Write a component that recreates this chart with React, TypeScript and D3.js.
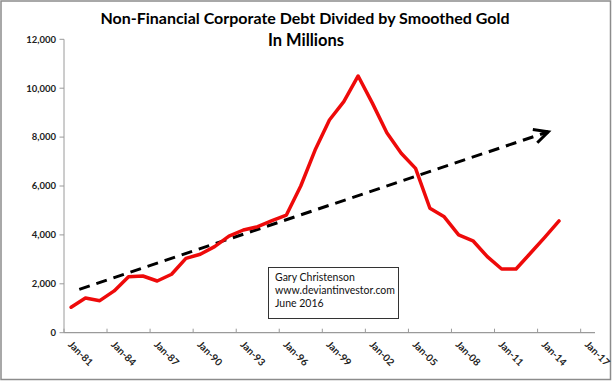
import React from "react";
import * as d3 from "d3";

const pointDates = [
  "1981-07-01","1982-07-01","1983-07-01","1984-07-01","1985-07-01","1986-07-01","1987-07-01",
  "1988-07-01","1989-07-01","1990-07-01","1991-07-01","1992-07-01","1993-07-01","1994-07-01",
  "1995-07-01","1996-07-01","1997-07-01","1998-07-01","1999-07-01","2000-07-01","2001-07-01",
  "2002-07-01","2003-07-01","2004-07-01","2005-07-01","2006-07-01","2007-07-01","2008-07-01",
  "2009-07-01","2010-07-01","2011-07-01","2012-07-01","2013-07-01","2014-07-01","2015-07-01",
];
const debtOverGold = [
  1040, 1420, 1310, 1710, 2290, 2320, 2115, 2390, 3040, 3210, 3520, 3950, 4200, 4335,
  4580, 4810, 6000, 7470, 8700, 9450, 10500, 9380, 8180, 7340, 6720, 5090, 4740, 4000,
  3760, 3110, 2605, 2605, 3250, 3900, 4570,
];
const trendDates = ["1982-01-25", "2014-10-01"];
const trendValues = [1775, 8220];
const yTicks = [0, 2000, 4000, 6000, 8000, 10000, 12000];
const xTickDates = [
  "1981-01-01","1984-01-01","1987-01-01","1990-01-01","1993-01-01","1996-01-01","1999-01-01",
  "2002-01-01","2005-01-01","2008-01-01","2011-01-01","2014-01-01","2017-01-01",
];
const xTickLabels = [
  "Jan-81","Jan-84","Jan-87","Jan-90","Jan-93","Jan-96","Jan-99",
  "Jan-02","Jan-05","Jan-08","Jan-11","Jan-14","Jan-17",
];
const titleLines = ["Non-Financial Corporate Debt Divided by Smoothed Gold", "In Millions"];
const noteLines = ["Gary Christenson", "www.deviantinvestor.com", "June 2016"];

const W = 612;
const H = 381;
const FONT = "Lato, 'Open Sans', sans-serif";

export default function App() {
  const parse = d3.timeParse("%Y-%m-%d");
  const x = d3
    .scaleTime()
    .domain([parse("1981-01-01")!, parse("2018-01-01")!])
    .range([64, 595]);
  const y = d3.scaleLinear().domain([0, 12000]).range([332.7, 39.3]);
  const fmt = d3.format(",");

  const series = pointDates.map((d, i) => ({ date: parse(d)!, value: debtOverGold[i] }));
  const trend = trendDates.map((d, i) => ({ date: parse(d)!, value: trendValues[i] }));

  const line = d3
    .line<{ date: Date; value: number }>()
    .x((d) => x(d.date))
    .y((d) => y(d.value));

  const axisColor = "#9a9a9a";
  const y0 = y(0);

  return (
    <svg
      width={W}
      height={H}
      style={{ position: "absolute", left: 0, top: 0, background: "#fff" }}
    >
      <defs>
        <marker
          id="arrow"
          markerUnits="userSpaceOnUse"
          viewBox="-16 -10 20 20"
          refX={0}
          refY={0}
          markerWidth={20}
          markerHeight={20}
          orient="auto"
        >
          <path
            d="M-14,-7 L0,0 L-14,7"
            fill="none"
            stroke="#000"
            strokeWidth={3}
            strokeDasharray="none"
            strokeLinejoin="miter"
          />
        </marker>
      </defs>
      <rect x={0} y={0} width={W} height={H} fill="#fff" />
      <rect x={1} y={1} width={609.5} height={378.5} fill="none" stroke="#8c8c8c" strokeWidth={1.5} />

      {/* Title */}
      <text
        x={305}
        y={24}
        textAnchor="middle"
        fontFamily={FONT}
        fontWeight="bold"
        fontSize={16}
        fill="#000"
      >
        {titleLines[0]}
      </text>
      <text
        x={306}
        y={45.5}
        textAnchor="middle"
        fontFamily={FONT}
        fontWeight="bold"
        fontSize={16.5}
        fill="#000"
      >
        {titleLines[1]}
      </text>

      {/* Y axis */}
      <line x1={x.range()[0]} x2={x.range()[0]} y1={y(12000)} y2={y0} stroke={axisColor} strokeWidth={1} />
      {yTicks.map((t) => (
        <g key={t}>
          <line x1={59.5} x2={64} y1={y(t)} y2={y(t)} stroke={axisColor} strokeWidth={1} />
          <text
            x={56}
            y={y(t)}
            dy="0.35em"
            textAnchor="end"
            fontFamily={FONT}
            fontWeight="bold"
            fontSize={9.5}
            fill="#222"
          >
            {fmt(t)}
          </text>
        </g>
      ))}

      {/* X axis */}
      <line x1={x.range()[0]} x2={x.range()[1]} y1={y0} y2={y0} stroke={axisColor} strokeWidth={1.2} />
      {xTickDates.map((d, i) => {
        const px = x(parse(d)!);
        return (
          <g key={d}>
            <line x1={px} x2={px} y1={y0 - 4} y2={y0} stroke={axisColor} strokeWidth={1} />
            <text
              transform={`translate(${px + 6},${y0 + 10}) rotate(45)`}
              fontFamily={FONT}
              fontWeight="bold"
              fontSize={10}
              fill="#222"
              dy="0.35em"
            >
              {xTickLabels[i]}
            </text>
          </g>
        );
      })}

      {/* Trend arrow */}
      <path
        d={line(trend) || ""}
        fill="none"
        stroke="#000"
        strokeWidth={3}
        strokeDasharray="11,7"
        markerEnd="url(#arrow)"
      />

      {/* Series */}
      <path
        d={line(series) || ""}
        fill="none"
        stroke="#ee0a0a"
        strokeWidth={3.5}
        strokeLinejoin="round"
        strokeLinecap="round"
      />

      {/* Note box */}
      <rect x={268.5} y={267.5} width={130} height={51} fill="#fff" stroke="#333" strokeWidth={1} />
      {noteLines.map((t, i) => (
        <text
          key={t}
          x={275}
          y={281 + i * 12.8}
          fontFamily={FONT}
          fontSize={10.5}
          fill="#111"
        >
          {t}
        </text>
      ))}
    </svg>
  );
}
